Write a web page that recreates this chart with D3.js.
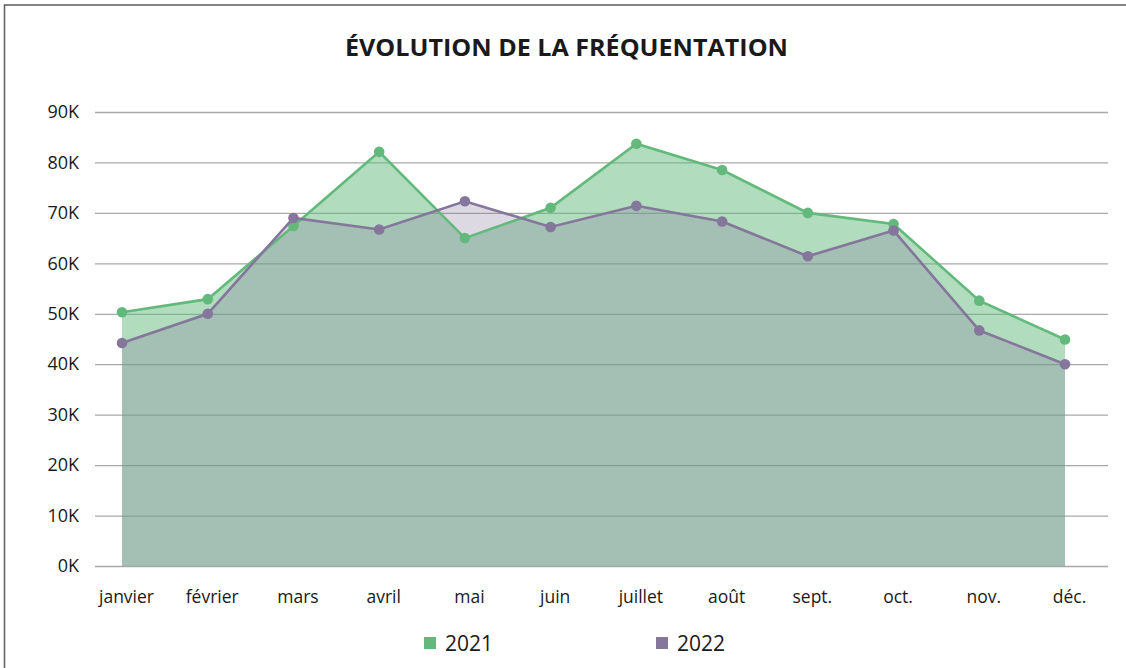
<!DOCTYPE html>
<html>
<head>
<meta charset="utf-8">
<script src="https://cdn.jsdelivr.net/npm/d3@7"></script>
<style>
  body { margin: 0; background: #fff; }
  svg text { font-family: "Open Sans", "Noto Sans", sans-serif; fill: #1a1a1a; }
</style>
</head>
<body>
<svg id="chart" width="1126" height="668"></svg>
<script>
// data
var months = ["janvier", "février", "mars", "avril", "mai", "juin", "juillet", "août", "sept.", "oct.", "nov.", "déc."];
var visits2021 = [50300, 52900, 67400, 82100, 65000, 71000, 83700, 78500, 70000, 67800, 52600, 44900];
var visits2022 = [44200, 50000, 69000, 66700, 72300, 67200, 71400, 68300, 61400, 66500, 46700, 40000];
var yTicks = [0, 10000, 20000, 30000, 40000, 50000, 60000, 70000, 80000, 90000];
var seriesNames = ["2021", "2022"];

var green = "#63b97c";
var purple = "#85769c";

var svg = d3.select("#chart");

// frame (top + left edges visible)
svg.append("rect")
	.attr("x", 4.5).attr("y", 5)
	.attr("width", 1140).attr("height", 700)
	.attr("fill", "none")
	.attr("stroke", "#666")
	.attr("stroke-width", 1.6);

svg.append("text")
	.attr("x", 566.5).attr("y", 56)
	.attr("text-anchor", "middle")
	.attr("font-size", 24)
	.attr("font-weight", 700)
	.attr("textLength", 443)
	.attr("lengthAdjust", "spacingAndGlyphs")
	.text("ÉVOLUTION DE LA FRÉQUENTATION");

var plotLeft = 95, plotRight = 1108;
var x = d3.scalePoint().domain(months).range([122, 1065]);
var y = d3.scaleLinear().domain([0, 90000]).range([566, 112]);

// y axis + gridlines
var yAxis = svg.append("g")
	.attr("transform", "translate(" + plotLeft + ",0)")
	.call(d3.axisLeft(y)
		.tickValues(yTicks)
		.tickSizeInner(-(plotRight - plotLeft))
		.tickSizeOuter(0)
		.tickPadding(16)
		.tickFormat(function (d) { return (d / 1000) + "K"; }));
yAxis.select(".domain").remove();
yAxis.selectAll(".tick line").attr("stroke", "#a9a9a9").attr("stroke-width", 1.3);
yAxis.selectAll(".tick text").attr("font-size", 18).attr("fill", "#1a1a1a");

// x labels
var xAxis = svg.append("g")
	.attr("transform", "translate(4,566)")
	.call(d3.axisBottom(x).tickSize(0).tickPadding(25));
xAxis.select(".domain").remove();
xAxis.selectAll(".tick text").attr("font-size", 17.5).attr("fill", "#1a1a1a");

function seriesData(vals) {
	return months.map(function (m, i) { return { m: m, v: vals[i] }; });
}

var area = d3.area()
	.x(function (d) { return x(d.m); })
	.y0(y(0))
	.y1(function (d) { return y(d.v); });

var line = d3.line()
	.x(function (d) { return x(d.m); })
	.y(function (d) { return y(d.v); });

var series = [
	{ name: seriesNames[0], color: green, alpha: 0.5, data: seriesData(visits2021) },
	{ name: seriesNames[1], color: purple, alpha: 0.28, data: seriesData(visits2022) }
];

// areas first, then lines and dots
series.forEach(function (s) {
	svg.append("path")
		.datum(s.data)
		.attr("d", area)
		.attr("fill", s.color)
		.attr("fill-opacity", s.alpha);
});

series.forEach(function (s) {
	svg.append("path")
		.datum(s.data)
		.attr("d", line)
		.attr("fill", "none")
		.attr("stroke", s.color)
		.attr("stroke-width", 2.6);

	svg.append("g").selectAll("circle")
		.data(s.data)
		.enter()
		.append("circle")
		.attr("cx", function (d) { return x(d.m); })
		.attr("cy", function (d) { return y(d.v); })
		.attr("r", 5.3)
		.attr("fill", s.color);
});

// legend
var legendX = [424, 656];
var legend = svg.append("g").selectAll("g")
	.data(series)
	.enter()
	.append("g")
	.attr("transform", function (d, i) { return "translate(" + legendX[i] + ",637)"; });

legend.append("rect")
	.attr("width", 12).attr("height", 12)
	.attr("fill", function (d) { return d.color; });

legend.append("text")
	.attr("x", 21).attr("y", 14)
	.attr("font-size", 21)
	.text(function (d) { return d.name; });
</script>
</body>
</html>
